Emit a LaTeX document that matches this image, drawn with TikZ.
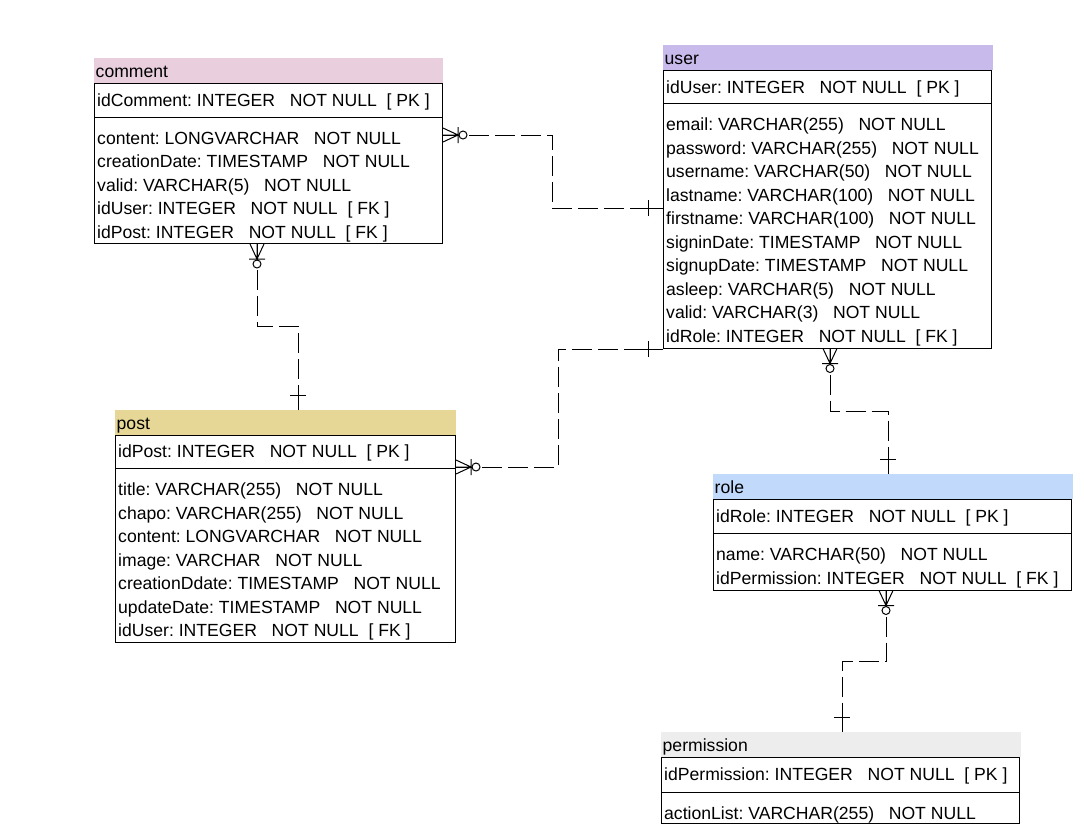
\documentclass[tikz,border=0pt]{standalone}
\usepackage{fontspec}
\setmainfont{Liberation Sans}

\definecolor{cmtpink}{RGB}{233,207,222}
\definecolor{usrlav}{RGB}{200,186,235}
\definecolor{postkhaki}{RGB}{230,215,150}
\definecolor{roleblue}{RGB}{193,217,251}
\definecolor{permgray}{RGB}{237,237,237}

\newcommand{\fieldfont}{\fontsize{17.6}{21}\selectfont\frenchspacing}
\newcommand{\notnull}{\ \ \ NOT NULL}
\newcommand{\pk}{\ \ [ PK ]}
\newcommand{\fk}{\ \ [ FK ]}

\tikzset{
  tblhead/.style={anchor=north west, inner xsep=1.5pt, inner ysep=0pt,
    text height=19.2pt, text depth=5.3pt, align=left, font=\fieldfont},
  tbl/.style={draw, anchor=north west, inner sep=0pt, line width=1pt},
  field/.style={anchor=base west, inner sep=0pt, font=\fieldfont},
  rel/.style={line width=1pt, dash pattern=on 20pt off 6pt},
  zeromany/.pic={
    \draw[line width=1pt] (0,-7) -- (15,0) -- (0,7) (0,0) -- (16,0) (15,-8) -- (15,8);
    \draw[line width=1pt, fill=white] (20,0) circle (4);
  },
  onebar/.pic={
    \draw[line width=1pt] (0,0) -- (22,0) (15,-8) -- (15,8);
  }
}

\begin{document}
\begin{tikzpicture}[x=1pt,y=-1pt]
\useasboundingbox (0,0) rectangle (1084,833);

% comment table
\node[tblhead, fill=cmtpink, text width=346pt] (comment-head) at (94,58) {comment};
\node[tbl, minimum width=348pt, minimum height=160.5pt] (comment) at (94,82.5) {};
\draw[line width=1pt] (comment.west |- 0,117.5) -- (comment.east |- 0,117.5);
\node[field] (comment-pk) at (97,106) {idComment: INTEGER\notnull\pk};
\foreach \f [count=\i from 0] in {{content: LONGVARCHAR\notnull},
    {creationDate: TIMESTAMP\notnull}, {valid: VARCHAR(5)\notnull},
    {idUser: INTEGER\notnull\fk}, {idPost: INTEGER\notnull\fk}}
  \node[field] (comment-f\i) at (97,{144.2+23.5*\i}) {\f};

% user table
\node[tblhead, fill=usrlav, text width=327pt] (user-head) at (663,45) {user};
\node[tbl, minimum width=328pt, minimum height=278pt] (user) at (663,69.5) {};
\draw[line width=1pt] (user.west |- 0,103) -- (user.east |- 0,103);
\node[field] (user-pk) at (666,93) {idUser: INTEGER\notnull\pk};
\foreach \f [count=\i from 0] in {{email: VARCHAR(255)\notnull},
    {password: VARCHAR(255)\notnull}, {username: VARCHAR(50)\notnull},
    {lastname: VARCHAR(100)\notnull}, {firstname: VARCHAR(100)\notnull},
    {signinDate: TIMESTAMP\notnull}, {signupDate: TIMESTAMP\notnull},
    {asleep: VARCHAR(5)\notnull}, {valid: VARCHAR(3)\notnull},
    {idRole: INTEGER\notnull\fk}}
  \node[field] (user-f\i) at (666,{130.7+23.5*\i}) {\f};

% post table
\node[tblhead, fill=postkhaki, text width=338pt] (post-head) at (115,410) {post};
\node[tbl, minimum width=340pt, minimum height=207.5pt] (post) at (115,434.5) {};
\draw[line width=1pt] (post.west |- 0,468) -- (post.east |- 0,468);
\node[field] (post-pk) at (118,457.5) {idPost: INTEGER\notnull\pk};
\foreach \f [count=\i from 0] in {{title: VARCHAR(255)\notnull},
    {chapo: VARCHAR(255)\notnull}, {content: LONGVARCHAR\notnull},
    {image: VARCHAR\notnull}, {creationDdate: TIMESTAMP\notnull},
    {updateDate: TIMESTAMP\notnull}, {idUser: INTEGER\notnull\fk}}
  \node[field] (post-f\i) at (118,{495.7+23.5*\i}) {\f};

% role table
\node[tblhead, fill=roleblue, text width=357pt] (role-head) at (713,474) {role};
\node[tbl, minimum width=358pt, minimum height=91pt] (role) at (713,498.5) {};
\draw[line width=1pt] (role.west |- 0,533) -- (role.east |- 0,533);
\node[field] (role-pk) at (716,522.5) {idRole: INTEGER\notnull\pk};
\node[field] (role-f0) at (716,560.7) {name: VARCHAR(50)\notnull};
\node[field] (role-f1) at (716,584.2) {idPermission: INTEGER\notnull\fk};

% permission table
\node[tblhead, fill=permgray, text width=357pt] (perm-head) at (661,732) {permission};
\node[tbl, minimum width=358pt, minimum height=66.5pt] (perm) at (661,756.5) {};
\draw[line width=1pt] (perm.west |- 0,792) -- (perm.east |- 0,792);
\node[field] (perm-pk) at (664,780.5) {idPermission: INTEGER\notnull\pk};
\node[field] (perm-f0) at (664,819.2) {actionList: VARCHAR(255)\notnull};

% relations
\draw[rel] (comment.east |- 0,135) -| (552,208) -- (user.west |- 0,208);
\draw[rel] (comment.south -| 257,0) -- (257,326) -| (post-head.north -| 298,0);
\draw[rel] (post.east |- 0,467) -| (558,349) -- (user.west |- 0,349);
\draw[rel] (user.south -| 830,0) -- (830,411) -| (role-head.north -| 888,0);
\draw[rel] (role.south -| 886,0) -- (886,661) -| (perm-head.north -| 842,0);

% ends
\pic at (comment.east |- 0,135) {zeromany};
\pic[rotate=180] at (user.west |- 0,208) {onebar};
\pic[rotate=-90] at (comment.south -| 257,0) {zeromany};
\pic[rotate=90] at (post-head.north -| 298,0) {onebar};
\pic at (post.east |- 0,467) {zeromany};
\pic[rotate=180] at (user.west |- 0,349) {onebar};
\pic[rotate=-90] at (user.south -| 830,0) {zeromany};
\pic[rotate=90] at (role-head.north -| 888,0) {onebar};
\pic[rotate=-90] at (role.south -| 886,0) {zeromany};
\pic[rotate=90] at (perm-head.north -| 842,0) {onebar};

\end{tikzpicture}
\end{document}
